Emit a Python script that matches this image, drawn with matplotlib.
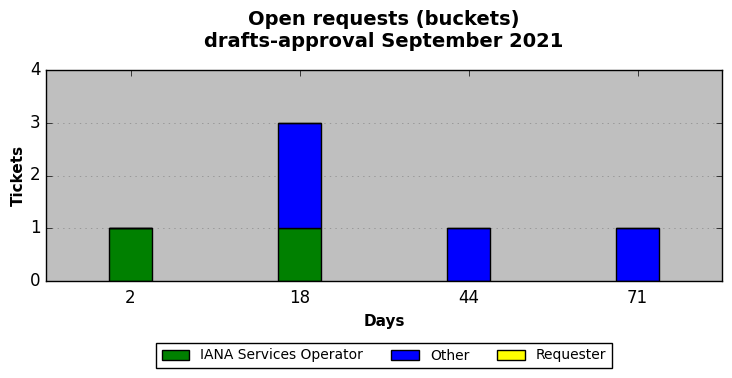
import numpy as np
import matplotlib
matplotlib.use("Agg")
import matplotlib.pyplot as plt

plt.style.use("classic")

days = ["2", "18", "44", "71"]
iana = [1, 1, 0, 0]
other = [0, 2, 1, 1]
requester = [0, 0, 0, 0]

fig = plt.figure(figsize=(7.32, 3.78), dpi=100, facecolor="white")
ax = fig.add_axes([46 / 732, 1 - 281 / 378, 676 / 732, 211 / 378])
ax.set_facecolor("#bfbfbf")

x = np.arange(len(days))
w = 0.25
ax.bar(x, iana, w, color="green", edgecolor="black", label="IANA Services Operator", align="center")
ax.bar(x, other, w, bottom=iana, color="blue", edgecolor="black", label="Other", align="center")
bot2 = np.array(iana) + np.array(other)
ax.bar(x, requester, w, bottom=bot2, color="yellow", edgecolor="black", label="Requester", align="center")

ax.set_xlim(-0.5, len(days) - 0.5)
ax.set_ylim(0, 4)
ax.set_xticks(x)
ax.set_xticklabels(days)
ax.set_yticks([0, 1, 2, 3, 4])
ax.tick_params(labelsize=12)
ax.tick_params(axis="x", pad=6)
ax.yaxis.grid(True, linestyle=":", color="#888888")
ax.set_axisbelow(True)

ax.set_xlabel("Days", fontsize=11, fontweight="bold")
ax.set_ylabel("Tickets", fontsize=11, fontweight="bold", labelpad=3)
fig.text(384 / 732, 1 - 10 / 378, "Open requests (buckets)\ndrafts-approval September 2021",
         ha="center", va="top", multialignment="center",
         fontsize=14, fontweight="bold")

fig.legend(loc="lower center", ncol=3, fontsize=10, bbox_to_anchor=(384 / 732, 3 / 378),
           fancybox=False, handlelength=2.0, columnspacing=2.0)

fig.savefig("out.png", dpi=100, facecolor="white")
